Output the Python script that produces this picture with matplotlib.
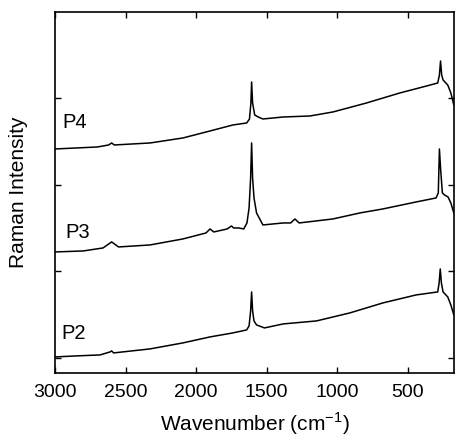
import numpy as np
from matplotlib import pyplot as plt

# spectra: wavenumber (cm-1) and intensity (arb. units, offset per sample)
wn_p4 = [3000, 2700, 2620, 2599, 2580, 2327, 2094, 1902, 1740, 1642, 1622, 1612, 1607, 1600, 1585,
         1560, 1527, 1383, 1194, 1031, 793, 557, 394, 288, 276, 268, 260, 250, 217, 195, 174]
p4 = [224, 226, 228, 230, 228, 230, 235, 242, 248, 250, 254, 270, 291, 270, 258,
      256, 254, 256, 257, 261, 270, 280, 286, 290, 298, 312, 298, 293, 288, 280, 268]

wn_p3 = [3000, 2800, 2660, 2599, 2550, 2327, 2094, 1930, 1902, 1875, 1780, 1750, 1735, 1700, 1663, 1640,
         1625, 1614, 1607, 1600, 1590, 1572, 1527, 1383, 1330, 1300, 1270, 1031, 840, 677, 441, 300,
         284, 276, 268, 255, 240, 215, 195, 174]
p3 = [121, 122, 125, 131, 126, 128, 134, 140, 144, 141, 144, 147, 145, 145, 144, 150,
      165, 195, 230, 195, 175, 160, 148, 150, 150, 154, 150, 154, 160, 164, 171, 175,
      180, 224, 205, 180, 178, 176, 170, 160]

wn_p2 = [3000, 2850, 2681, 2610, 2599, 2585, 2327, 2094, 1902, 1740, 1642, 1625, 1614, 1607, 1600, 1590,
         1572, 1516, 1383, 1147, 911, 677, 441, 288, 278, 270, 262, 250, 217, 195, 174]
p2 = [16, 17, 18, 21, 22, 20, 24, 30, 36, 40, 43, 47, 62, 81, 62, 52,
      48, 45, 49, 52, 60, 70, 78, 81, 90, 104, 90, 81, 76, 68, 58]

labels = ['P4', 'P3', 'P2']
label_pos = [(2860, 250), (2840, 140), (2870, 39)]

xticks = [3000, 2500, 2000, 1500, 1000, 500]
yticks = [15, 101.7, 188.3, 275]

plt.rcParams['font.family'] = ['Liberation Sans', 'DejaVu Sans']
plt.rcParams['mathtext.fontset'] = 'custom'
plt.rcParams['mathtext.rm'] = 'Liberation Sans'

fig = plt.figure(figsize=(4.55, 4.45), dpi=100)
ax = fig.add_axes([0.121, 0.162, 0.877, 0.811])

for wn, y in [(wn_p4, p4), (wn_p3, p3), (wn_p2, p2)]:
    ax.plot(wn, y, color='black', lw=1.1)

for lab, (x, y) in zip(labels, label_pos):
    ax.text(x, y, lab, fontsize=14.5, ha='center', va='center')

ax.set_xlim(3000, 172)
ax.set_ylim(0, 361)
ax.set_xticks(xticks)
ax.set_yticks(yticks)
ax.set_yticklabels([])
ax.tick_params(direction='in', top=True, right=True, length=4, width=1, labelsize=14)
ax.tick_params(axis='x', pad=8)
for s in ax.spines.values():
    s.set_linewidth(1.2)

ax.set_xlabel('Wavenumber (cm$^{\\mathrm{-1}}$)', fontsize=15, labelpad=7)
ax.set_ylabel('Raman Intensity', fontsize=15, labelpad=16)

fig.savefig('out.png', dpi=100)
